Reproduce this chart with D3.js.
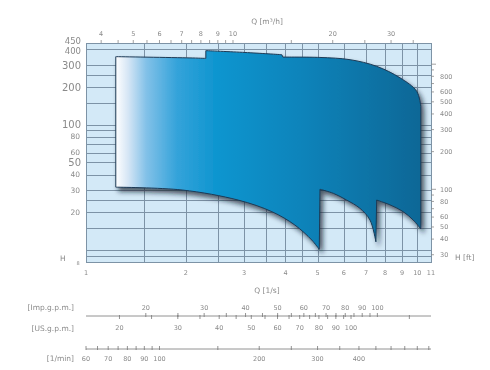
<!DOCTYPE html>
<html>
<head>
<meta charset="utf-8">
<script src="https://cdn.jsdelivr.net/npm/d3@7"></script>
<style>
body { margin: 0; background: #fff; }
svg { transform: translateZ(0); }
text { font-family: "DejaVu Sans", sans-serif; fill: #8a8a8a; }
</style>
</head>
<body>
<svg id="chart" width="490" height="370"></svg>
<script>
// flow in l/s (x), head in m (y)
const gridQ = [1.5, 2, 2.5, 3, 3.5, 4, 4.5, 5, 6, 7, 8, 9, 10];
const gridH = [400, 300, 250, 200, 150, 100, 90, 80, 70, 60, 50, 40, 30, 25, 20, 15, 10, 9];
const qLabels = [1, 2, 3, 4, 5, 6, 7, 8, 9, 10, 11];
const hLabelsBig = [450, 400, 300, 200, 100, 50];
const hLabelsSmall = [80, 60, 40, 30, 20];
const m3hTicks = [4, 4.5, 5, 5.5, 6, 6.5, 7, 7.5, 8, 8.5, 9, 9.5, 10, 15, 20, 25, 30, 35];
const m3hLabels = [4, 5, 6, 7, 8, 9, 10, 20, 30];
const ftTicks = [30, 40, 50, 60, 70, 80, 90, 100, 200, 300, 400, 500, 600, 700, 800, 900, 1000];
const ftLabels = [800, 600, 500, 400, 300, 200, 100, 80, 60, 50, 40, 30];
const impTicks = [20, 25, 30, 35, 40, 45, 50, 55, 60, 65, 70, 75, 80, 85, 90, 95, 100];
const impLabels = [20, 30, 40, 50, 60, 70, 80, 90, 100];
const usTicks = [20, 25, 30, 35, 40, 45, 50, 55, 60, 65, 70, 75, 80, 85, 90, 95, 100, 150];
const usLabels = [20, 30, 40, 50, 60, 70, 80, 90, 100];
const lminTicks = [60, 65, 70, 75, 80, 85, 90, 95, 100, 150, 200, 250, 300, 350, 400, 450, 500, 550, 600, 650];
const lminLabels = [60, 70, 80, 90, 100, 200, 300, 400];

// envelope of the pump range [Q l/s, H m]
const top1 = [[1.23, 350], [2.06, 342], [2.30, 339]];
const top2 = [[2.30, 391], [3.02, 378], [3.90, 363]];
const top3 = [[3.93, 347], [5.08, 345], [6.27, 331], [7.54, 293], [8.87, 237], [9.96, 185], [10.25, 140]];
const bottom1 = [[1.23, 31.7], [1.95, 30.1], [2.88, 25.0], [3.64, 20.2], [4.27, 15.8], [4.80, 12.0], [5.06, 10.1]];
const bottom2 = [[5.085, 30.5], [5.58, 28.3], [6.12, 25.0], [6.71, 21.5], [7.20, 17.3], [7.50, 11.6]];
const bottom3 = [[7.54, 25.0], [8.27, 22.9], [9.07, 20.2], [9.72, 17.3], [10.25, 14.7]];

const IMP = 13.198, US = 15.850; // per l/s

var svg = d3.select("#chart");
var x = d3.scaleLog().domain([1, 11]).range([86, 431]);
var y = d3.scaleLog().domain([8, 450]).range([262, 43]);

var defs = svg.append("defs");
var grad = defs.append("linearGradient").attr("id", "fillGrad")
    .attr("gradientUnits", "userSpaceOnUse")
    .attr("x1", x(1.23)).attr("x2", x(10.3)).attr("y1", 0).attr("y2", 0);
[[0, "#ffffff"], [0.04, "#d6e6f5"], [0.1, "#82c1e8"], [0.2, "#34a3da"], [0.32, "#1196d0"], [0.6, "#0b84bb"], [1, "#0a6796"]]
    .forEach(s => grad.append("stop").attr("offset", s[0]).attr("stop-color", s[1]));
defs.append("filter").attr("id", "shadow").attr("x", "-10%").attr("y", "-10%").attr("width", "130%").attr("height", "130%")
    .append("feDropShadow").attr("dx", 3).attr("dy", 4).attr("stdDeviation", 2.5)
    .attr("flood-color", "#0a1a2a").attr("flood-opacity", 0.7);

// plot background + grid
svg.append("rect").attr("x", x(1)).attr("y", y(450))
    .attr("width", x(11) - x(1)).attr("height", y(8) - y(450))
    .attr("fill", "#d3e9f7");
svg.append("g").attr("stroke", "#7d93a6").attr("stroke-width", 1)
    .selectAll("line").data(gridQ).join("line")
    .attr("x1", d => Math.round(x(d)) + 0.5).attr("x2", d => Math.round(x(d)) + 0.5)
    .attr("y1", y(450)).attr("y2", y(8));
svg.append("g").attr("stroke", "#7d93a6").attr("stroke-width", 1)
    .selectAll("line").data(gridH).join("line")
    .attr("y1", d => Math.round(y(d)) + 0.5).attr("y2", d => Math.round(y(d)) + 0.5)
    .attr("x1", x(1)).attr("x2", x(11));
svg.append("rect").attr("x", x(1) + 0.5).attr("y", y(450) + 0.5)
    .attr("width", x(11) - x(1)).attr("height", y(8) - y(450))
    .attr("fill", "none").attr("stroke", "#7d93a6");

// envelope
var line = d3.line().x(d => x(d[0])).y(d => y(d[1])).curve(d3.curveCatmullRom);
var straight = d3.line().x(d => x(d[0])).y(d => y(d[1]));
var parts = [
    line(top1), line(top2), line(top3),
    straight([top3[top3.length - 1], bottom3[bottom3.length - 1]]),
    line(bottom3.slice().reverse()),
    straight([bottom3[0], bottom2[bottom2.length - 1]]),
    line(bottom2.slice().reverse()),
    straight([bottom2[0], bottom1[bottom1.length - 1]]),
    line(bottom1.slice().reverse())
];
var pathD = parts.map((p, i) => i === 0 ? p : "L" + p.slice(1)).join("") + "Z";
svg.append("path").attr("d", pathD)
    .attr("fill", "url(#fillGrad)")
    .attr("stroke", "#1c3a56").attr("stroke-width", 1)
    .attr("stroke-linejoin", "round")
    .attr("filter", "url(#shadow)");

// left axis labels
var bigOffset = {450: -1.5, 400: 1.5};
svg.append("g").selectAll("text").data(hLabelsBig).join("text")
    .attr("x", 81).attr("y", d => y(d) + (bigOffset[d] || 0)).attr("dy", "0.35em")
    .attr("text-anchor", "end").style("font-size", d => d >= 400 ? "8.5px" : "10px").text(d => d);
svg.append("g").selectAll("text").data(hLabelsSmall).join("text")
    .attr("x", 80).attr("y", d => y(d)).attr("dy", "0.35em")
    .attr("text-anchor", "end").style("font-size", "7.5px").text(d => d);
svg.append("text").attr("x", 78).attr("y", y(8) + 3).attr("text-anchor", "middle")
    .style("font-size", "5px").text("8");
svg.append("text").attr("x", 60).attr("y", 261).style("font-size", "7.5px").text("H");

// right axis (ft)
var ft = d => d * 0.3048;
svg.append("g").attr("stroke", "#8a8a8a").attr("stroke-width", 0.8)
    .selectAll("line").data(ftTicks).join("line")
    .attr("x1", x(11)).attr("x2", d => x(11) + ((d === 100 || d === 1000) ? 5 : 3))
    .attr("y1", d => y(ft(d))).attr("y2", d => y(ft(d)));
svg.append("g").selectAll("text").data(ftLabels).join("text")
    .attr("x", 440).attr("y", d => y(ft(d))).attr("dy", "0.35em")
    .style("font-size", "6.5px").text(d => d);
svg.append("text").attr("x", 455).attr("y", 260).style("font-size", "7.5px").text("H [ft]");

// top axis (m3/h)
svg.append("g").attr("stroke", "#8a8a8a").attr("stroke-width", 0.8)
    .selectAll("line").data(m3hTicks).join("line")
    .attr("x1", d => x(d / 3.6)).attr("x2", d => x(d / 3.6))
    .attr("y1", y(450) - 3).attr("y2", y(450));
svg.append("g").selectAll("text").data(m3hLabels).join("text")
    .attr("x", d => x(d / 3.6)).attr("y", 36).attr("text-anchor", "middle")
    .style("font-size", "6.5px").text(d => d);
svg.append("text").attr("x", 267).attr("y", 24).attr("text-anchor", "middle")
    .style("font-size", "7.5px").text("Q [m³/h]");

// bottom axis (l/s)
svg.append("g").selectAll("text").data(qLabels).join("text")
    .attr("x", d => x(d)).attr("y", 275).attr("text-anchor", "middle")
    .style("font-size", "6.5px").text(d => d);
svg.append("text").attr("x", 267).attr("y", 293).attr("text-anchor", "middle")
    .style("font-size", "7.5px").text("Q [1/s]");

// gpm scales
var gy = 316;
svg.append("line").attr("x1", x(1)).attr("x2", x(11)).attr("y1", gy).attr("y2", gy)
    .attr("stroke", "#777").attr("stroke-width", 0.8);
svg.append("g").attr("stroke", "#777").attr("stroke-width", 0.8)
    .selectAll("line").data(impTicks).join("line")
    .attr("x1", d => x(d / IMP)).attr("x2", d => x(d / IMP))
    .attr("y1", gy - 3).attr("y2", gy + 1);
svg.append("g").attr("stroke", "#777").attr("stroke-width", 0.8)
    .selectAll("line").data(usTicks).join("line")
    .attr("x1", d => x(d / US)).attr("x2", d => x(d / US))
    .attr("y1", gy - 1).attr("y2", gy + 3);
svg.append("g").selectAll("text").data(impLabels).join("text")
    .attr("x", d => x(d / IMP)).attr("y", gy - 6).attr("text-anchor", "middle")
    .style("font-size", "6.5px").text(d => d);
svg.append("g").selectAll("text").data(usLabels).join("text")
    .attr("x", d => x(d / US)).attr("y", gy + 14).attr("text-anchor", "middle")
    .style("font-size", "6.5px").text(d => d);
svg.append("text").attr("x", 74).attr("y", 310).attr("text-anchor", "end")
    .style("font-size", "7.5px").text("[Imp.g.p.m.]");
svg.append("text").attr("x", 74).attr("y", 331).attr("text-anchor", "end")
    .style("font-size", "7.5px").text("[US.g.p.m.]");

var ly = 349;
svg.append("line").attr("x1", x(1)).attr("x2", x(11)).attr("y1", ly).attr("y2", ly)
    .attr("stroke", "#777").attr("stroke-width", 0.8);
svg.append("g").attr("stroke", "#777").attr("stroke-width", 0.8)
    .selectAll("line").data(lminTicks).join("line")
    .attr("x1", d => x(d / 60)).attr("x2", d => x(d / 60))
    .attr("y1", ly - 3).attr("y2", ly + 1);
svg.append("g").selectAll("text").data(lminLabels).join("text")
    .attr("x", d => x(d / 60)).attr("y", ly + 12).attr("text-anchor", "middle")
    .style("font-size", "6.5px").text(d => d);
svg.append("text").attr("x", 74).attr("y", 361).attr("text-anchor", "end")
    .style("font-size", "7.5px").text("[1/min]");
</script>
</body>
</html>
